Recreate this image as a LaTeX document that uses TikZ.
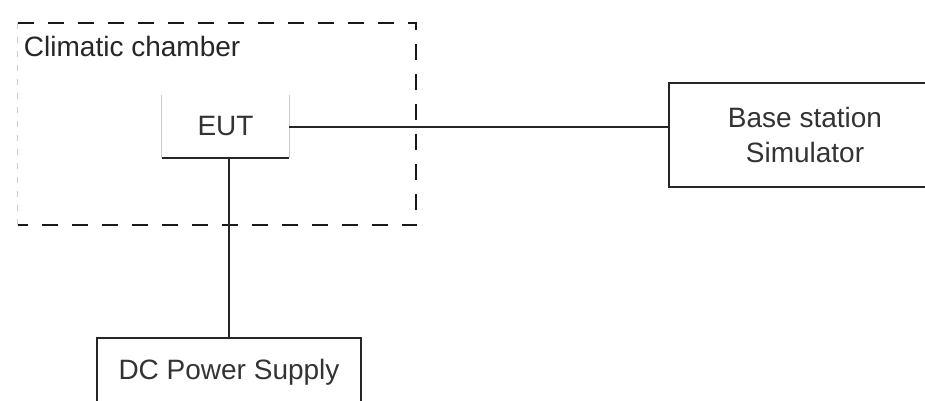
\documentclass[tikz,border=0pt]{standalone}
\usepackage{fontspec}
\setmainfont{Liberation Sans}
\usetikzlibrary{positioning}

\begin{document}
\begin{tikzpicture}[
        x=0.5pt, y=-0.5pt,
        box/.style={draw=black!85, line width=1pt, rectangle,
                    align=center, inner sep=0pt,
                    font=\fontsize{14}{17.5}\selectfont, text=black!80},
        eutbox/.style={rectangle, inner sep=0pt,
                       font=\fontsize{14}{17.5}\selectfont, text=black!80},
        faint/.style={draw=black!20, line width=0.6pt},
        chamberline/.style={draw=black!90, line width=1pt,
                            dash pattern=on 8pt off 7pt},
        wire/.style={draw=black!85, line width=1pt}
    ]
    \clip (0,0) rectangle (925,401);

    % climatic chamber (dashed outline, left edge almost invisible)
    \node[rectangle, inner sep=0pt, minimum width=199pt, minimum height=101pt]
        (chamber) at (217,124) {};
    \draw[chamberline] (chamber.north west) -- (chamber.north east)
        -- (chamber.south east) -- (chamber.south west);
    \draw[faint, dash pattern=on 3pt off 4pt] (chamber.south west) -- (chamber.north west);
    \node[anchor=north west, inner sep=0pt, text=black!85,
          font=\fontsize{14}{17}\selectfont]
        (chamberlabel) at ([xshift=3pt,yshift=-6.5pt]chamber.north west) {Climatic chamber};

    % equipment under test
    \node[eutbox, minimum width=63.5pt, minimum height=31.5pt] (eut) at (225.5,126.5) {EUT};
    \draw[faint] (eut.north west) -- (eut.south west);
    \draw[faint] (eut.north east) -- (eut.south east);
    \draw[wire]  (eut.south west) -- (eut.south east);

    % base station simulator and power supply
    \node[box, minimum width=136pt, minimum height=52pt] (bs) at (805,135) {Base station\\Simulator};
    \node[box, minimum width=132pt, minimum height=34pt] (dc) at (229,372) {DC Power Supply};

    \draw[wire] (eut.east) -- (eut.east -| bs.west);
    \draw[wire] (eut.south -| dc.north) -- (dc.north);
\end{tikzpicture}
\end{document}
